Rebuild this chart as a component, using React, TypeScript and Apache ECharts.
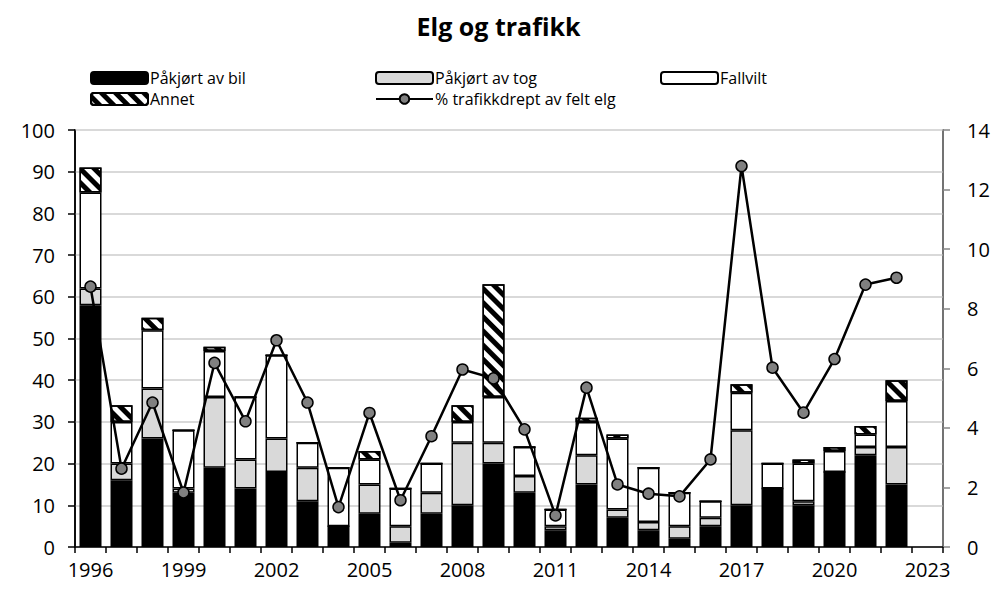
import React, { useEffect, useRef } from "react";
import * as echarts from "echarts";

const years: string[] = [
  "1996","1997","1998","1999","2000","2001","2002","2003","2004","2005",
  "2006","2007","2008","2009","2010","2011","2012","2013","2014","2015",
  "2016","2017","2018","2019","2020","2021","2022","2023",
];
const bil: number[] = [58,16,26,13,19,14,18,11,5,8,1,8,10,20,13,4,15,7,4,2,5,10,14,10,18,22,15];
const tog: number[] = [4,4,12,1,17,7,8,8,0,7,4,5,15,5,4,1,7,2,2,3,2,18,0,1,0,2,9];
const fallvilt: number[] = [23,10,14,14,11,15,20,6,14,6,9,7,5,11,7,4,8,17,13,8,4,9,6,9,5,3,11];
const annet: number[] = [6,4,3,0,1,0,0,0,0,2,0,0,4,27,0,0,1,1,0,0,0,2,0,1,1,2,5];
const pct: number[] = [8.74,2.63,4.85,1.83,6.18,4.22,6.94,4.85,1.34,4.5,1.57,3.72,5.96,5.66,3.95,1.06,5.35,2.1,1.79,1.7,2.94,12.79,6.02,4.51,6.31,8.81,9.04];

const FONT = "'Open Sans', 'Noto Sans', sans-serif";

export default function App() {
  const ref = useRef<HTMLDivElement>(null);
  useEffect(() => {
    if (!ref.current) return;
    const chart = echarts.init(ref.current, undefined, { renderer: "svg" });
    const barBase = {
      type: "bar",
      stack: "total",
      barWidth: 22,
      yAxisIndex: 0,
    };
    const legendBase = {
      itemWidth: 57,
      itemHeight: 12,
      itemGap: 0,
      textStyle: { fontFamily: FONT, fontSize: 16, color: "#000", padding: [0, 0, 0, -3] },
      selectedMode: false,
      padding: 0,
    };
    chart.setOption({
      animation: false,
      backgroundColor: "#fff",
      textStyle: { fontFamily: FONT },
      title: {
        text: "Elg og trafikk",
        left: "center",
        top: 8,
        textStyle: { fontFamily: FONT, fontSize: 25, fontWeight: "bold", color: "#000" },
      },
      legend: [
        { ...legendBase, data: ["Påkjørt av bil"], left: 90, top: 70 },
        { ...legendBase, data: ["Påkjørt av tog"], left: 375, top: 70 },
        { ...legendBase, data: ["Fallvilt"], left: 660, top: 70 },
        { ...legendBase, data: ["Annet"], left: 90, top: 91 },
        { ...legendBase, data: ["% trafikkdrept av felt elg"], left: 375, top: 91 },
      ],
      grid: {
        left: 75,
        right: 54,
        top: 130,
        bottom: 42,
        show: true,
        borderColor: "#000",
        borderWidth: 1.5,
        backgroundColor: "transparent",
      },
      xAxis: {
        type: "category",
        data: years,
        boundaryGap: true,
        axisLine: { show: true, lineStyle: { color: "#000", width: 1.5 } },
        axisTick: { show: true, interval: 0, length: 6, lineStyle: { color: "#000", width: 1.5 } },
        axisLabel: { interval: 2, fontSize: 20, color: "#000", margin: 12, fontFamily: FONT },
        splitLine: { show: false },
      },
      yAxis: [
        {
          type: "value",
          min: 0,
          max: 100,
          interval: 10,
          axisLine: { show: true, lineStyle: { color: "#000", width: 1.5 } },
          axisTick: { show: true, length: 7, lineStyle: { color: "#000", width: 1.5 } },
          axisLabel: { fontSize: 20, color: "#000", margin: 20, fontFamily: FONT },
          splitLine: { show: true, lineStyle: { color: "#d9d9d9", width: 2 } },
        },
        {
          type: "value",
          min: 0,
          max: 14,
          interval: 2,
          position: "right",
          axisLine: { show: true, lineStyle: { color: "#868686", width: 1.5 } },
          axisTick: { show: true, length: 7, lineStyle: { color: "#868686", width: 1.5 } },
          axisLabel: { fontSize: 20, color: "#000", margin: 24, fontFamily: FONT },
          splitLine: { show: false },
        },
      ],
      series: [
        {
          ...barBase,
          name: "Påkjørt av bil",
          data: bil,
          itemStyle: { color: "#000", borderColor: "#000", borderWidth: 1.5 },
        },
        {
          ...barBase,
          name: "Påkjørt av tog",
          data: tog,
          itemStyle: { color: "#d9d9d9", borderColor: "#000", borderWidth: 1.5 },
        },
        {
          ...barBase,
          name: "Fallvilt",
          data: fallvilt,
          itemStyle: { color: "#fff", borderColor: "#000", borderWidth: 1.5 },
        },
        {
          ...barBase,
          name: "Annet",
          data: annet,
          itemStyle: {
            color: "#fff",
            borderColor: "#000",
            borderWidth: 1.5,
            decal: {
              symbol: "rect",
              symbolSize: 1,
              color: "#000",
              dashArrayX: [1, 0],
              dashArrayY: [5, 5],
              rotation: Math.PI / 4,
            },
          },
        },
        {
          type: "line",
          name: "% trafikkdrept av felt elg",
          yAxisIndex: 1,
          data: pct,
          symbol: "circle",
          symbolSize: 11,
          z: 10,
          lineStyle: { color: "#000", width: 2.5 },
          itemStyle: { color: "#808080", borderColor: "#000", borderWidth: 1.5 },
        },
      ],
    });
    return () => chart.dispose();
  }, []);
  return <div ref={ref} style={{ width: 997, height: 589, position: "absolute", left: 0, top: 0 }} />;
}
